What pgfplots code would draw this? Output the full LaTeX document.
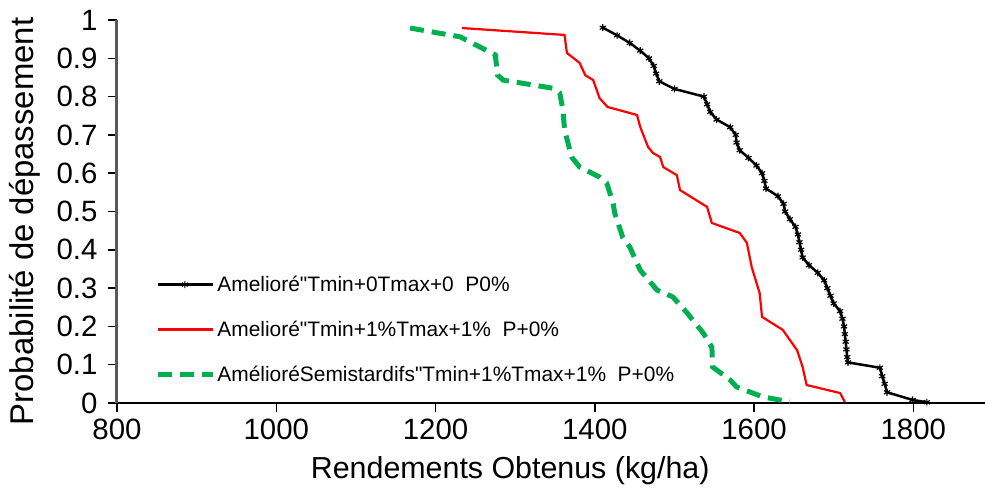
\documentclass[border=0pt]{standalone}
\usepackage{fontspec}
\setmainfont{Liberation Sans}[Ligatures=TeXOff]
\usepackage{pgfplots}
\pgfplotsset{compat=1.18}
\definecolor{xlgreen}{HTML}{00B050}
\definecolor{axgrey}{HTML}{595959}

\begin{document}
\begin{tikzpicture}
\begin{axis}[
  name=ax, at={(0,0)}, anchor=south west,
  width=868bp, height=383bp, scale only axis,
  xmin=800, xmax=1890, ymin=0, ymax=1,
  xtick={800,1000,1200,1400,1600,1800},
  ytick={0,0.1,0.2,0.3,0.4,0.5,0.6,0.7,0.8,0.9,1},
  scaled ticks=false,
  /pgf/number format/1000 sep={},
  /pgf/number format/assume math mode=true,
  axis x line*=bottom, axis y line*=left,
  x axis line style={draw=black,line width=2.5bp},
  y axis line style={draw=axgrey,line width=3bp},
  tick align=outside, major tick length=9bp,
  every tick/.style={draw=black,line width=1.5bp},
  tick label style={font=\fontsize{29.5}{29.5}\selectfont},
  yticklabel style={xshift=-7bp},
  xticklabel style={yshift=-3bp},
  xlabel={Rendements Obtenus (kg/ha)},
  ylabel={Probabilité de dépassement},
  xlabel style={font=\fontsize{30.5}{30.5}\selectfont,at={(axis description cs:0.453,0)},anchor=center,yshift=-68bp},
  ylabel style={font=\fontsize{33}{33}\selectfont,at={(axis description cs:0,0.474)},anchor=center,yshift=92bp},
  legend style={at={(axis description cs:0.044,0.337)},anchor=north west,
    draw=none,fill=none,inner sep=0pt,row sep=24bp,
    font=\fontsize{21}{21}\selectfont,
    nodes={inner sep=2bp}},
  legend cell align=left,
  legend image code/.code={\draw[mark repeat=2,mark phase=2,#1] plot coordinates {(0bp,0bp) (27bp,0bp) (55bp,0bp)};},
]
\addplot[black,line width=2.5bp,mark=asterisk,mark size=3.5bp,mark options={line width=1.2bp,solid}] coordinates {
(1410,0.98) (1428,0.96) (1444,0.94) (1457,0.92) (1468,0.90) (1474,0.88) (1477,0.86) (1481,0.84)
(1500,0.82) (1537,0.80) (1541,0.78) (1545,0.76) (1553,0.74) (1570,0.72) (1577,0.70) (1578,0.68)
(1582,0.66) (1593,0.64) (1603,0.62) (1610,0.60) (1613,0.58) (1615,0.56) (1630,0.54) (1637,0.52)
(1639,0.50) (1645,0.48) (1652,0.46) (1655,0.44) (1657,0.42) (1659,0.40) (1661,0.38) (1669,0.36)
(1680,0.34) (1688,0.32) (1692,0.30) (1696,0.28) (1700,0.26) (1708,0.24) (1711,0.22) (1713,0.20)
(1714,0.18) (1715,0.16) (1716,0.14) (1717,0.12) (1718,0.106) (1758,0.092) (1761,0.07) (1764,0.05)
(1767,0.028) (1799,0.008) (1817,0.002)
};
\addlegendentry{Amelioré"Tmin+0Tmax+0\ \ P0\%}
\addplot[red,line width=2.2bp] coordinates {
(1233,0.979) (1362,0.961) (1365,0.914) (1381,0.888) (1388,0.856) (1398,0.843) (1406,0.796)
(1416,0.773) (1453,0.752) (1457,0.721) (1467,0.668) (1473,0.653) (1482,0.642) (1486,0.616)
(1503,0.595) (1507,0.556) (1541,0.512) (1547,0.47) (1582,0.444) (1591,0.418) (1597,0.355)
(1607,0.287) (1610,0.225) (1636,0.191) (1654,0.138) (1661,0.094) (1666,0.047) (1708,0.026)
(1714,0.003)
};
\addlegendentry{Amelioré"Tmin+1\%Tmax+1\%\ \ P+0\%}
\addplot[xlgreen,line width=5bp,dash pattern=on 14bp off 8bp] coordinates {
(1168,0.979) (1231,0.956) (1243,0.943) (1275,0.909) (1278,0.856) (1285,0.843) (1347,0.822)
(1356,0.809) (1360,0.765) (1362,0.713) (1371,0.642) (1381,0.616) (1406,0.590) (1415,0.574)
(1423,0.522) (1425,0.496) (1435,0.433) (1444,0.407) (1457,0.347) (1478,0.295) (1498,0.277)
(1516,0.235) (1536,0.183) (1547,0.146) (1548,0.094) (1570,0.06) (1578,0.042) (1611,0.016)
(1645,0.003)
};
\addlegendentry{AmélioréSemistardifs"Tmin+1\%Tmax+1\%\ \ P+0\%}
\end{axis}
\pgfresetboundingbox
\path[use as bounding box] (ax.south west) ++(-117bp,-89bp) rectangle ++(986bp,492bp);
\end{tikzpicture}
\end{document}
